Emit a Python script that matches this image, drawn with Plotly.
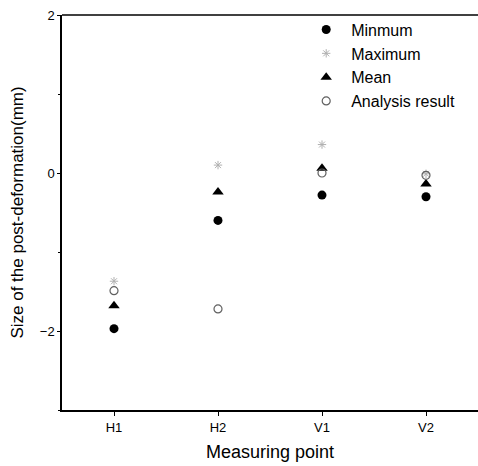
import plotly.graph_objects as go

categories = ["H1", "H2", "V1", "V2"]
minimum = [-1.97, -0.60, -0.28, -0.30]
maximum = [-1.37, 0.10, 0.36, -0.01]
mean = [-1.68, -0.24, 0.06, -0.14]
analysis = [-1.49, -1.72, 0.00, -0.03]

font = "Liberation Sans, Arial, sans-serif"
fig = go.Figure()
fig.add_trace(go.Scatter(x=categories, y=minimum, mode="markers", name="Minmum",
                         marker=dict(symbol="circle", size=9, color="black")))
fig.add_trace(go.Scatter(x=categories, y=maximum, mode="markers", name="Maximum",
                         marker=dict(symbol="asterisk-open", size=7, color="#b0b0b0",
                                     line=dict(color="#b0b0b0", width=1))))
fig.add_trace(go.Scatter(x=categories, y=mean, mode="markers", name="Mean",
                         marker=dict(symbol="triangle-up", size=10, color="black")))
fig.add_trace(go.Scatter(x=categories, y=analysis, mode="markers", name="Analysis result",
                         marker=dict(symbol="circle-open", size=8, color="#606060",
                                     line=dict(color="#606060", width=1.2))))

fig.update_layout(
    width=478, height=466,
    margin=dict(l=62, r=0, t=15, b=56, autoexpand=False),
    paper_bgcolor="white", plot_bgcolor="white",
    font=dict(family=font, color="black", size=13),
    showlegend=True,
    legend=dict(x=0.575, y=1.006, xanchor="left", yanchor="top",
                bgcolor="rgba(0,0,0,0)", font=dict(size=16, family=font),
                itemwidth=40, tracegroupgap=0),
)
fig.update_xaxes(
    type="category", range=[-0.5, 3.5], automargin=False,
    showline=True, linecolor="black", linewidth=2, mirror=False,
    ticks="outside", ticklen=4, tickcolor="black",
    showgrid=False, zeroline=False,
    title=dict(text="Measuring point", font=dict(size=18, family=font), standoff=12),
    tickfont=dict(size=13, family=font),
)
fig.update_yaxes(
    range=[-3, 2], dtick=2, tick0=0, automargin=False,
    showline=True, linecolor="black", linewidth=1.5, mirror=False,
    ticks="outside", ticklen=3, tickcolor="black",
    minor=dict(dtick=1, ticks="outside", ticklen=2, tickcolor="black"),
    showgrid=False, zeroline=False,
    title=dict(text="Size of the post-deformation(mm)", font=dict(size=17, family=font), standoff=12),
    tickfont=dict(size=13, family=font),
)
# top border
fig.add_shape(type="line", xref="paper", yref="paper", x0=0, x1=1, y0=1, y1=1,
              line=dict(color="black", width=1.5))

fig.write_html("out.html", config={"displayModeBar": False},
               post_script="document.body.style.margin='0';document.body.style.overflow='hidden';")
